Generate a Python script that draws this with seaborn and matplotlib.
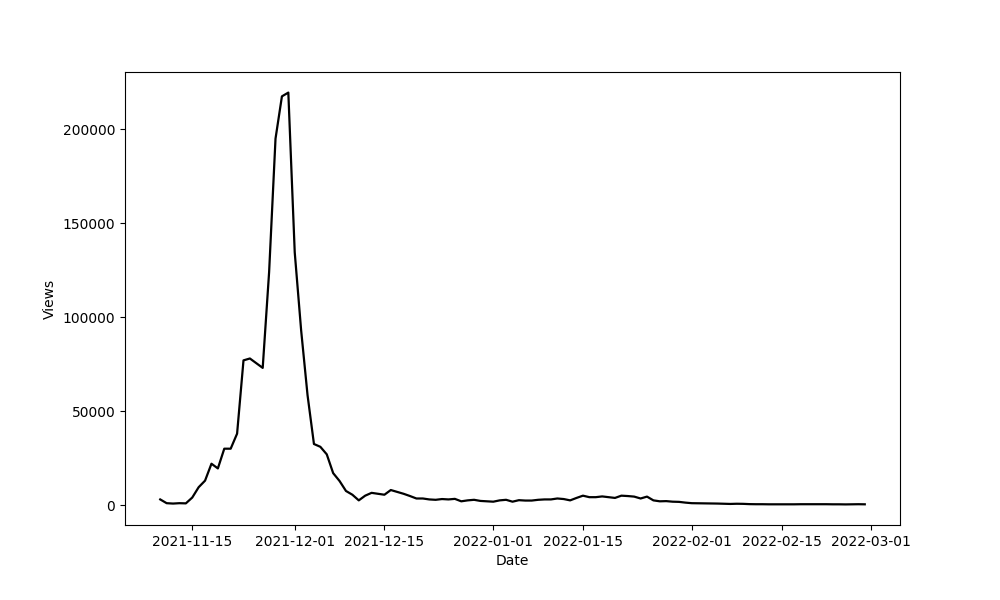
import pandas as pd
import matplotlib
matplotlib.use('Agg')
import matplotlib.pyplot as plt
import seaborn as sns

# daily views, 2021-11-10 .. 2022-02-28
start_date = '2021-11-10'
end_date = '2022-02-28'

views_nov = [3000, 1000, 800, 1000, 900, 4000, 9500, 13000, 22000, 19500,
             30000, 30000, 38000, 77000, 78000, 75500, 73000, 124000, 195000,
             217500, 219500]
views_dec = [134500, 93000, 58500, 32500, 31000, 27000, 17000, 12800, 7500,
             5500, 2500, 5000, 6500, 6000, 5500, 8000, 7000, 6000, 4800, 3500,
             3500, 3000, 2800, 3200, 3000, 3300, 2000, 2500, 2800, 2200, 2000]
views_jan = [1800, 2500, 2800, 1800, 2600, 2400, 2400, 2800, 3000, 3000,
             3500, 3200, 2500, 3800, 5000, 4200, 4200, 4600, 4200, 3800, 5000,
             4800, 4500, 3500, 4500, 2500, 2000, 2100, 1800, 1700, 1300]
views_feb = [1000, 950, 900, 850, 800, 700, 600, 700, 650, 500, 450, 450,
             400, 400, 400, 400, 400, 450, 450, 450, 450, 450, 400, 400, 350,
             400, 450, 400]

views = views_nov + views_dec + views_jan + views_feb
dates = pd.date_range(start_date, end_date, freq='D')

df = pd.DataFrame({'Date': dates, 'Views': views})

plt.figure(figsize=(10, 6))
sns.lineplot(data=df, x='Date', y='Views', color='black', linewidth=1.6)
plt.subplots_adjust(bottom=0.125)
plt.savefig('out.png', dpi=100)
